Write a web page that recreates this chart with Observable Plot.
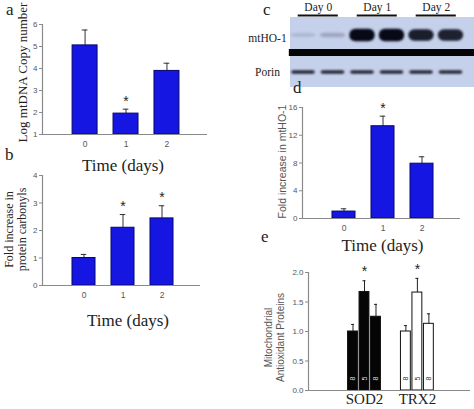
<!DOCTYPE html>
<html><head><meta charset="utf-8">
<script src="https://cdn.jsdelivr.net/npm/d3@7"></script>
<script src="https://cdn.jsdelivr.net/npm/@observablehq/plot@0.6"></script>
<style>
body{margin:0;background:#fff;}
#fig{position:relative;width:474px;height:409px;overflow:hidden;background:#fff;}
#fig svg{position:absolute;}
.lab{position:absolute;font-family:"Liberation Serif","DejaVu Serif",serif;font-size:17px;line-height:17px;color:#222;}
</style></head><body><div id="fig"></div>
<script>
// ---- data ----
const days = [0, 1, 2];
const mtDNA = [5.05, 1.95, 3.89];
const mtDNAErr = [5.75, 2.15, 4.24];
const mtDNASig = [false, true, false];
const carbonyls = [1.0, 2.1, 2.44];
const carbonylsErr = [1.13, 2.58, 2.9];
const carbonylsSig = [false, true, true];
const ho1Fold = [1.0, 13.3, 7.9];
const ho1FoldErr = [1.4, 14.75, 8.9];
const ho1Sig = [false, true, false];
const proteins = ["SOD2", "TRX2"];
const sod2 = [1.0, 1.67, 1.25];
const sod2Err = [1.12, 1.86, 1.46];
const trx2 = [1.0, 1.66, 1.13];
const trx2Err = [1.1, 1.9, 1.3];
const antioxSig = [false, true, false];
const barLabels = ["8", "5", "8"];
const blotLanes = [1, 2, 3, 4, 5, 6];
const blotDays = ["Day 0", "Day 1", "Day 2"];
const ho1Band = [0.12, 0.2, 1.0, 1.0, 0.9, 0.88];
const porinBand = [0.85, 0.85, 0.85, 0.85, 0.85, 0.85];

// ---- styles ----
const fig = document.getElementById("fig");
const AX = "#8a8a8a", TXT = "#555";
const SERIF = '"Liberation Serif","DejaVu Serif",serif';
const SANS = '"Liberation Sans",Arial,sans-serif';
const BLUE = "#1616e2", BLUE_EDGE = "#06066e";

function place(svg, left, top) {
  svg.style.left = left + "px"; svg.style.top = top + "px";
  fig.appendChild(svg);
}
function letter(t, x, baseline) {
  const s = document.createElement("span");
  s.className = "lab"; s.textContent = t;
  s.style.left = x + "px"; s.style.top = (baseline - 14) + "px";
  fig.appendChild(s);
}

function dayPanel(cfg) {
  const rows = days.map((d, i) => ({day: d, value: cfg.values[i], err: cfg.errs[i], sig: cfg.sig[i]}));
  const [x0, x1] = cfg.xDomain, [y0, y1] = cfg.yDomain;
  return Plot.plot({
    width: cfg.width, height: cfg.height,
    marginLeft: cfg.mL, marginRight: cfg.mR, marginTop: cfg.mT, marginBottom: cfg.mB,
    style: {background: "transparent", overflow: "visible"},
    x: {domain: cfg.xDomain, axis: null},
    y: {domain: cfg.yDomain, axis: null},
    marks: [
      Plot.ruleX(rows, {x: "day", y1: "value", y2: "err", stroke: "#333", strokeWidth: 1}),
      Plot.ruleY(rows, {y: "err", x1: d => d.day - 0.07, x2: d => d.day + 0.07, stroke: "#333", strokeWidth: 1}),
      Plot.rect(rows, {x1: d => d.day - cfg.half, x2: d => d.day + cfg.half, y1: () => y0, y2: "value", fill: BLUE, stroke: BLUE_EDGE, strokeWidth: 1}),
      Plot.text(rows.filter(d => d.sig), {x: "day", y: "err", text: () => "*", dy: -8, fontSize: 14, fill: "#222", fontFamily: SANS}),
      Plot.ruleY([y0], {x1: () => x0, x2: () => x1, stroke: AX, strokeWidth: 1.2}),
      Plot.ruleX([x0], {y1: () => y0, y2: () => y1, stroke: AX, strokeWidth: 1.2}),
      Plot.axisY({ticks: cfg.yTicks, tickSize: 3, tickPadding: 2, label: null, fontSize: 8, fill: TXT, stroke: AX, fontFamily: SANS, tickFormat: cfg.fmt || (d => String(d))}),
      Plot.axisX({ticks: days, tickSize: 0, tickPadding: 6, label: null, fontSize: 8.5, fill: TXT, fontFamily: SANS, tickFormat: d => String(d)}),
      Plot.text(["Time (days)"], {frameAnchor: "bottom", dx: cfg.tdx, dy: cfg.tdy, fontSize: 17, fontFamily: SERIF, fill: "#222", lineAnchor: "middle"}),
      Plot.text([cfg.ylabel], {frameAnchor: "left", rotate: -90, textAnchor: "middle", lineAnchor: "middle", dx: cfg.ldx, dy: cfg.ldy, fontSize: cfg.lsize, fontFamily: cfg.lfont, fill: cfg.lcolor, lineHeight: 1.1})
    ]
  });
}

// panel a
place(dayPanel({values: mtDNA, errs: mtDNAErr, sig: mtDNASig, width: 230, height: 180, mL: 42, mR: 23, mT: 24, mB: 46,
  xDomain: [-1.04, 2.99], yDomain: [1, 6], yTicks: [1, 2, 3, 4, 5, 6], half: 0.305,
  tdx: -2, tdy: 31, ylabel: "Log mtDNA Copy number", ldx: -20, ldy: -7, lsize: 13, lfont: SERIF, lcolor: "#222"}), 0, 0);

// panel b
place(dayPanel({values: carbonyls, errs: carbonylsErr, sig: carbonylsSig, width: 230, height: 185, mL: 42, mR: 30, mT: 25, mB: 50,
  xDomain: [-1.064, 2.987], yDomain: [0, 4], yTicks: [0, 1, 2, 3, 4], half: 0.295,
  tdx: 6.5, tdy: 35, ylabel: "Fold increase in\nprotein carbonyls", ldx: -27.5, ldy: -1, lsize: 12, lfont: SERIF, lcolor: "#222"}), 0, 150);

// panel d
place(dayPanel({values: ho1Fold, errs: ho1FoldErr, sig: ho1Sig, width: 244, height: 160, mL: 72, mR: 14, mT: 12, mB: 37,
  xDomain: [-1.064, 2.987], yDomain: [0, 16], yTicks: [0, 4, 8, 12, 16], half: 0.295,
  tdx: 1, tdy: 27, ylabel: "Fold increase in mtHO-1", ldx: -20, ldy: -1.5, lsize: 10.5, lfont: SANS, lcolor: TXT}), 230, 95);

// panel e
{
  const groupStep = 4.6;
  const rows = [];
  proteins.forEach((p, g) => {
    const vals = g === 0 ? sod2 : trx2, errs = g === 0 ? sod2Err : trx2Err;
    days.forEach((d, s) => rows.push({protein: p, g, pos: g * groupStep + (s - 1), value: vals[s], err: errs[s], sig: antioxSig[s], lab: barLabels[s]}));
  });
  const groups = proteins.map((p, g) => ({name: p, pos: g * groupStep}));
  const x0 = -4.87, x1 = 9.22, y0 = 0, y1 = 2, half = 0.43;
  const svg = Plot.plot({
    width: 244, height: 154, marginLeft: 78, marginRight: 4, marginTop: 17, marginBottom: 19,
    style: {background: "transparent", overflow: "visible"},
    x: {domain: [x0, x1], axis: null},
    y: {domain: [y0, y1], axis: null},
    marks: [
      Plot.ruleX(rows, {x: "pos", y1: "value", y2: "err", stroke: "#222"}),
      Plot.ruleY(rows, {y: "err", x1: d => d.pos - 0.13, x2: d => d.pos + 0.13, stroke: "#222"}),
      Plot.rect(rows, {x1: d => d.pos - half, x2: d => d.pos + half, y1: () => y0, y2: "value", fill: d => d.g === 0 ? "#050505" : "#ffffff", stroke: "#111", strokeWidth: 1}),
      Plot.text(rows, {x: "pos", y: () => y0, dy: -12, rotate: -90, text: "lab", fontSize: 7, fontFamily: SANS, fill: d => d.g === 0 ? "#ddd" : "#333"}),
      Plot.text(rows.filter(d => d.sig), {x: "pos", y: "err", text: () => "*", dy: -9, fontSize: 14, fill: "#222", fontFamily: SANS}),
      Plot.ruleY([y0], {x1: () => x0, x2: () => x1, stroke: AX, strokeWidth: 1.2}),
      Plot.ruleX([x0], {y1: () => y0, y2: () => y1, stroke: AX, strokeWidth: 1.2}),
      Plot.axisY({ticks: [0, 0.5, 1, 1.5, 2], tickSize: 3, tickPadding: 2, label: null, fontSize: 8, fill: TXT, stroke: AX, fontFamily: SANS, tickFormat: d3.format(".1f")}),
      Plot.text(groups, {x: "pos", y: () => y0, text: "name", dy: 9, fontSize: 15, fontFamily: SERIF, fill: "#222", lineAnchor: "middle"}),
      Plot.text(["Mitochondrial\nAntioxidant Proteins"], {frameAnchor: "left", rotate: -90, textAnchor: "middle", lineAnchor: "middle", dx: -34, dy: 6, fontSize: 10, fontFamily: SANS, fill: TXT, lineHeight: 1.2})
    ]
  });
  place(svg, 230, 255);
}

// panel c: western blot
{
  const lanes = blotLanes.map((l, i) => ({lane: l, ho: ho1Band[i], porin: porinBand[i]}));
  const dayGroups = blotDays.map((name, i) => ({name, center: 1.5 + 2 * i}));
  const bg = "#c5d0eb", ink = "#070a16";
  const shade = d3.interpolateRgb(bg, ink);
  const bx0 = 0.559, bx1 = 6.797;
  const svg = Plot.plot({
    width: 244, height: 95, marginLeft: 60, marginRight: 0, marginTop: 0, marginBottom: 0,
    style: {background: "transparent", overflow: "visible"},
    x: {domain: [bx0, bx1], axis: null},
    y: {domain: [0, 95], range: [0, 95], axis: null},
    marks: [
      Plot.rect([0], {x1: () => bx0, x2: () => bx1, y1: () => 17, y2: () => 87, fill: bg}),
      Plot.rect([0], {x1: () => bx0 - 0.04, x2: () => bx1, y1: () => 49, y2: () => 56, fill: "#050505"}),
      Plot.rect(lanes, {x1: d => d.lane - 0.43, x2: d => d.lane + 0.43, y1: d => 35 - (1.3 + 5 * d.ho), y2: d => 35 + (1.3 + 5 * d.ho), fill: d => shade(d.ho), rx: 6}),
      Plot.rect(lanes, {x1: d => d.lane - 0.4, x2: d => d.lane + 0.4, y1: () => 70.3, y2: () => 73.7, fill: d => shade(d.porin), rx: 2}),
      Plot.ruleY(dayGroups, {y: () => 15, x1: d => d.center - 0.68, x2: d => d.center + 0.68, stroke: "#111", strokeWidth: 2}),
      Plot.text(dayGroups, {x: "center", y: () => 7, text: "name", fontSize: 11.5, fontFamily: SERIF, fill: "#222"}),
      Plot.text(["mtHO-1"], {frameAnchor: "left", y: () => 38, dx: -23, textAnchor: "middle", fontSize: 11.5, fontFamily: SERIF, fill: "#222"}),
      Plot.text(["Porin"], {frameAnchor: "left", y: () => 72, dx: -23, textAnchor: "middle", fontSize: 11.5, fontFamily: SERIF, fill: "#222"})
    ]
  });
  d3.select(svg).selectAll('g[aria-label="rect"]').filter((d, i) => i >= 2).style("filter", "blur(1px)");
  place(svg, 230, 0);
}

letter("a", 6, 15);
letter("b", 5, 160);
letter("c", 263, 15);
letter("d", 293, 93);
letter("e", 261, 242);
</script>
</body></html>
